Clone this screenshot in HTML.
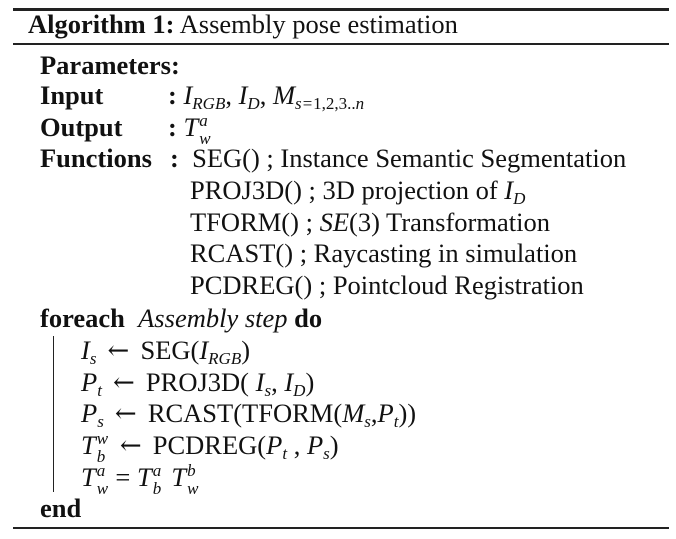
<!DOCTYPE html>
<html><head><meta charset="utf-8"><style>
body{margin:0;background:#fff;}
#c{position:relative;width:676px;height:539px;overflow:hidden;font-family:"Liberation Serif",serif;font-size:26.5px;color:#111;}
.r{position:absolute;left:13px;width:656px;background:#222;}
.t{position:absolute;white-space:nowrap;line-height:32px;height:32px;}
b{font-weight:bold;}
i{font-style:italic;}
sub,sup{font-size:17px;line-height:0;}
sub{vertical-align:-5px;}
.ss{position:relative;display:inline-block;width:13px;height:0;font-size:17px;font-style:italic;}
.ss .u{position:absolute;left:1px;top:-24px;line-height:17px;}
.ss .d{position:absolute;left:1px;top:-6px;line-height:17px;}
.ar{display:inline-block;width:44px;text-align:center;font-family:"DejaVu Serif",serif;font-size:26px;}
</style></head><body>
<div id="c">
<div class="r" style="top:8px;height:3px"></div>
<div class="r" style="top:43px;height:2px"></div>
<div class="r" style="top:527px;height:2px"></div>
<div class="t" style="left:28px;top:8px"><b>Algorithm 1:</b> Assembly pose estimation</div>
<div class="t" style="left:40px;top:49px"><b>Parameters:</b></div>
<div class="t" style="left:40px;top:79px"><b>Input</b></div>
<div class="t" style="left:168px;top:79px"><b>:</b> <i>I<sub>RGB</sub></i>, <i>I<sub>D</sub></i>, <i>M<sub>s=</sub></i><sub>1,2,3..<i>n</i></sub></div>
<div class="t" style="left:40px;top:111px"><b>Output</b></div>
<div class="t" style="left:168px;top:111px"><b>:</b> <i>T</i><span class="ss"><span class="u">a</span><span class="d">w</span></span></div>
<div class="t" style="left:40px;top:142px"><b>Functions</b></div>
<div class="t" style="left:170px;top:142px"><b>:</b>&nbsp; SEG() ; Instance Semantic Segmentation</div>
<div class="t" style="left:190px;top:174px">PROJ3D() ; 3D projection of <i>I<sub>D</sub></i></div>
<div class="t" style="left:190px;top:206px">TFORM() ; <i>SE</i>(3) Transformation</div>
<div class="t" style="left:190px;top:237px">RCAST() ; Raycasting in simulation</div>
<div class="t" style="left:190px;top:269px">PCDREG() ; Pointcloud Registration</div>
<div class="t" style="left:40px;top:302px"><b>foreach</b>&nbsp; <i>Assembly step</i> <b>do</b></div>
<div style="position:absolute;left:53px;top:336px;width:1px;height:156px;background:#222"></div>
<div class="t" style="left:81px;top:334px"><i>I<sub>s</sub></i><span class="ar">←</span>SEG(<i>I<sub>RGB</sub></i>)</div>
<div class="t" style="left:81px;top:366px"><i>P<sub>t</sub></i><span class="ar">←</span>PROJ3D( <i>I<sub>s</sub></i>, <i>I<sub>D</sub></i>)</div>
<div class="t" style="left:81px;top:397px"><i>P<sub>s</sub></i><span class="ar">←</span>RCAST(TFORM(<i>M<sub>s</sub></i>,<i>P<sub>t</sub></i>))</div>
<div class="t" style="left:81px;top:429px"><i>T</i><span class="ss"><span class="u">w</span><span class="d">b</span></span><span class="ar">←</span>PCDREG(<i>P<sub>t</sub></i> , <i>P<sub>s</sub></i>)</div>
<div class="t" style="left:81px;top:461px"><i>T</i><span class="ss"><span class="u">a</span><span class="d">w</span></span> = <i>T</i><span class="ss"><span class="u">a</span><span class="d">b</span></span> <i>T</i><span class="ss"><span class="u">b</span><span class="d">w</span></span></div>
<div class="t" style="left:40px;top:492px"><b>end</b></div>
</div>
</body></html>
